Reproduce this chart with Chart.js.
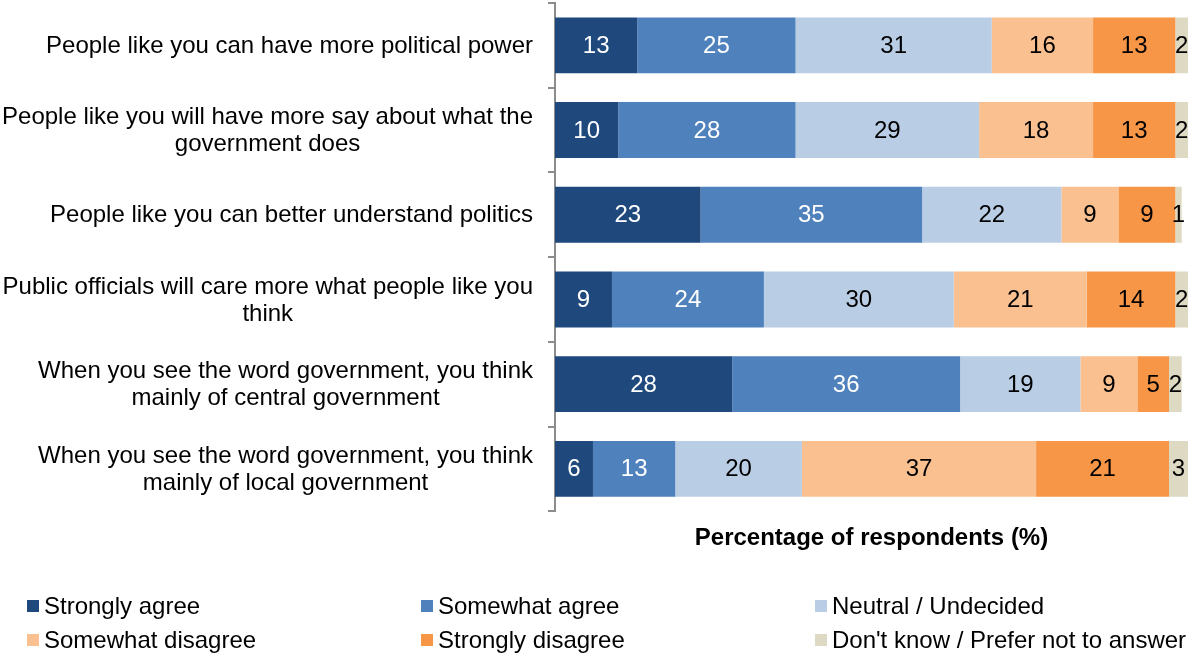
<!DOCTYPE html>
<html>
<head>
<meta charset="utf-8">
<script src="https://cdn.jsdelivr.net/npm/chart.js@4/dist/chart.umd.min.js"></script>
<style>
    html, body { margin: 0; padding: 0; background: #fff; }
    #wrap { width: 1189px; height: 655px; }
</style>
</head>
<body>
<div id="wrap"><canvas id="surveyChart" width="1189" height="655"></canvas></div>
<script>
const categories = [
    ['People like you can have more political power'],
    ['People like you will have more say about what the', 'government does'],
    ['People like you can better understand politics'],
    ['Public officials will care more what people like you', 'think'],
    ['When you see the word government, you think', 'mainly of central government'],
    ['When you see the word government, you think', 'mainly of local government']
];

const seriesNames = ['Strongly agree', 'Somewhat agree', 'Neutral / Undecided',
    'Somewhat disagree', 'Strongly disagree', "Don't know / Prefer not to answer"];

const stronglyAgree    = [13, 10, 23, 9, 28, 6];
const somewhatAgree    = [25, 28, 35, 24, 36, 13];
const neutral          = [31, 29, 22, 30, 19, 20];
const somewhatDisagree = [16, 18, 9, 21, 9, 37];
const stronglyDisagree = [13, 13, 9, 14, 5, 21];
const dontKnow         = [2, 2, 1, 2, 2, 3];

const colors = ['#1F497D', '#4F81BD', '#B9CDE5', '#FAC090', '#F79646', '#DDD9C3'];
const labelColors = ['#fff', '#fff', '#000', '#000', '#000', '#000'];

const values = [stronglyAgree, somewhatAgree, neutral, somewhatDisagree, stronglyDisagree, dontKnow];

const FONT = '"Liberation Sans", Arial, sans-serif';
Chart.defaults.font.family = FONT;
Chart.defaults.font.size = 24;
Chart.defaults.color = '#000';

// numbers in the middle of each segment
const segmentLabels = {
    id: 'segmentLabels',
    afterDatasetsDraw(chart) {
        const ctx = chart.ctx;
        ctx.save();
        ctx.font = '24px ' + FONT;
        ctx.textAlign = 'center';
        ctx.textBaseline = 'middle';
        chart.data.datasets.forEach((ds, i) => {
            const meta = chart.getDatasetMeta(i);
            meta.data.forEach((bar, j) => {
                ctx.fillStyle = labelColors[i];
                ctx.fillText(String(ds.data[j]), (bar.x + bar.base) / 2, bar.y + 1);
            });
        });
        ctx.restore();
    }
};

// category labels: each block right-aligned, lines centred inside the block
const categoryLabels = {
    id: 'categoryLabels',
    afterDraw(chart) {
        const ctx = chart.ctx;
        const y = chart.scales.y;
        const right = 533;
        const lh = 27;
        ctx.save();
        ctx.font = '24px ' + FONT;
        ctx.textAlign = 'center';
        ctx.textBaseline = 'middle';
        ctx.fillStyle = '#000';
        categories.forEach((lines, i) => {
            const w = Math.max(...lines.map(l => ctx.measureText(l).width));
            const cx = right - w / 2;
            const cy = y.getPixelForTick(i) + 1;
            const top = cy - (lines.length - 1) * lh / 2;
            lines.forEach((l, k) => ctx.fillText(l, cx, top + k * lh));
        });
        ctx.restore();
    }
};

// legend in three columns under the chart
const gridLegend = {
    id: 'gridLegend',
    afterDraw(chart) {
        const ctx = chart.ctx;
        const colX = [27, 421, 815];
        const rowY = [606, 640];
        ctx.save();
        ctx.font = '24px ' + FONT;
        ctx.textAlign = 'left';
        ctx.textBaseline = 'middle';
        seriesNames.forEach((name, i) => {
            const x = colX[i % 3];
            const y = rowY[Math.floor(i / 3)];
            ctx.fillStyle = colors[i];
            ctx.fillRect(x, y - 6, 12, 12);
            ctx.fillStyle = '#000';
            ctx.fillText(name, x + 17, y + 1);
        });
        ctx.restore();
    }
};

new Chart(document.getElementById('surveyChart'), {
    type: 'bar',
    data: {
        labels: categories,
        datasets: seriesNames.map((name, i) => ({
            label: name,
            data: values[i],
            backgroundColor: colors[i],
            borderWidth: 0,
            categoryPercentage: 0.66,
            barPercentage: 1
        }))
    },
    options: {
        indexAxis: 'y',
        responsive: false,
        animation: false,
        layout: { padding: { top: 3, right: 1, bottom: 98, left: 0 } },
        plugins: {
            legend: { display: false },
            tooltip: { enabled: false }
        },
        scales: {
            x: {
                stacked: true,
                min: 0,
                max: 100,
                ticks: { display: false },
                grid: { display: false },
                border: { display: false },
                title: {
                    display: true,
                    text: 'Percentage of respondents (%)',
                    font: { size: 24, weight: 'bold' },
                    color: '#000',
                    padding: { top: 5, bottom: 4 }
                }
            },
            y: {
                stacked: true,
                afterFit: s => {
                    s.width = 555;
                    s.paddingTop = 0;
                    s.paddingBottom = 0;
                },
                ticks: {
                    color: 'rgba(0,0,0,0)',
                    padding: 15,
                    font: { size: 24, lineHeight: 1.125 }
                },
                grid: {
                    drawOnChartArea: false,
                    tickLength: 7,
                    color: '#8c8c8c',
                    lineWidth: 2
                },
                border: { color: '#8c8c8c', width: 2 }
            }
        }
    },
    plugins: [segmentLabels, categoryLabels, gridLegend]
});
</script>
</body>
</html>
